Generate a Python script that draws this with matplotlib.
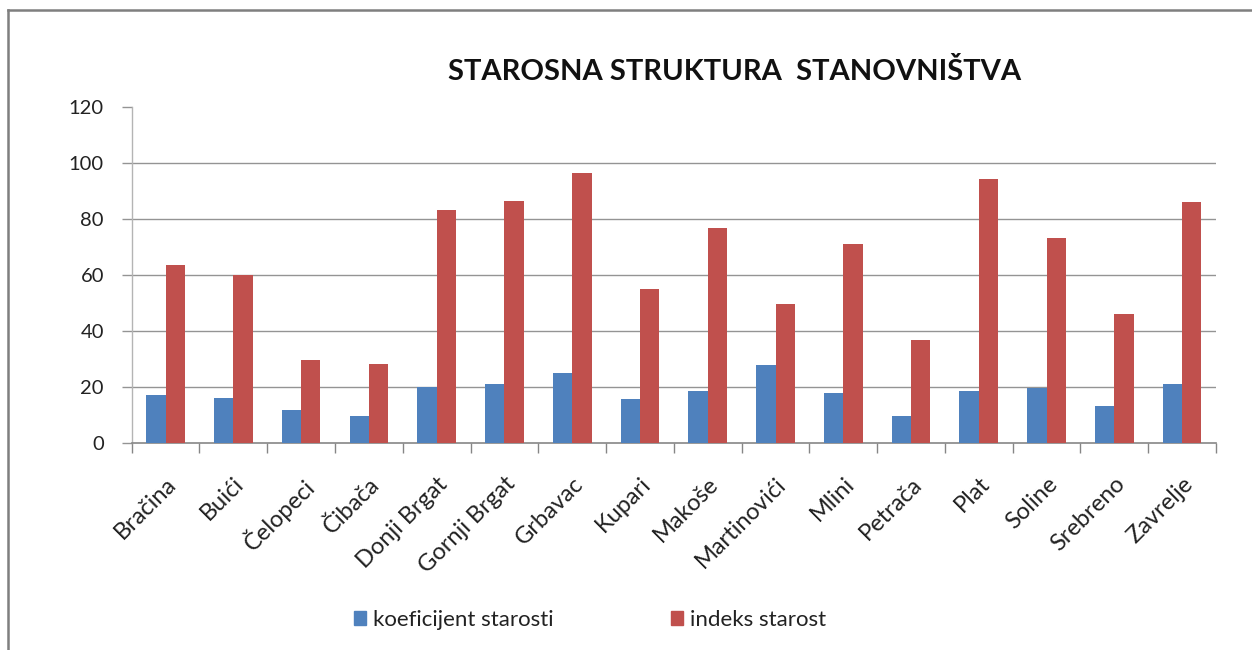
import matplotlib
matplotlib.use("Agg")
import matplotlib.pyplot as plt
from matplotlib.lines import Line2D
from matplotlib.patches import Patch
import numpy as np

plt.rcParams['font.family'] = ['Lato', 'DejaVu Sans']

categories = ["Bračina", "Buići", "Čelopeci", "Čibača", "Donji Brgat", "Gornji Brgat",
              "Grbavac", "Kupari", "Makoše", "Martinovići", "Mlini", "Petrača",
              "Plat", "Soline", "Srebreno", "Zavrelje"]
koeficijent = [17.1, 15.8, 11.8, 9.6, 20.0, 20.9, 24.9, 15.5, 18.6, 27.6, 17.9, 9.6, 18.6, 19.5, 13.1, 21.1]
indeks = [63.4, 59.8, 29.4, 28.0, 83.2, 86.2, 96.4, 54.8, 76.6, 49.5, 70.9, 36.8, 94.2, 73.1, 45.8, 86.1]
series_names = ["koeficijent starosti", "indeks starost"]
yticks = [0, 20, 40, 60, 80, 100, 120]
title = "STAROSNA STRUKTURA  STANOVNIŠTVA"

BLUE = "#4F81BD"
RED = "#C0504D"
GRID = "#949494"
AXIS = "#868686"

W, H = 1252, 650
fig = plt.figure(figsize=(W / 100, H / 100), dpi=100)
fig.patch.set_facecolor("white")

# outer chart border (top and left visible)
fig.add_artist(Line2D([8 / W, 8 / W], [0, 1 - 10 / H], color="#7F7F7F", lw=1.8))
fig.add_artist(Line2D([8 / W, 1], [1 - 10 / H, 1 - 10 / H], color="#7F7F7F", lw=1.8))

left, right = 131.7 / W, 1216 / W
bottom, top = 1 - 442.7 / H, 1 - 106.7 / H
ax = fig.add_axes([left, bottom, right - left, top - bottom])

x = np.arange(len(categories))
bw = 1 / 3.5
ax.bar(x - bw / 2, koeficijent, width=bw, color=BLUE, zorder=3)
ax.bar(x + bw / 2, indeks, width=bw, color=RED, zorder=3)

ax.set_xlim(-0.5, len(categories) - 0.5)
ax.set_ylim(0, 120)

# gridlines (no line at the top value)
for v in yticks[1:-1]:
    ax.axhline(v, color=GRID, lw=1.0, zorder=1)

for s in ["top", "right"]:
    ax.spines[s].set_visible(False)
ax.spines["left"].set_color("#B4B4B4")
ax.spines["bottom"].set_color(AXIS)
ax.spines["left"].set_linewidth(1.0)
ax.spines["bottom"].set_linewidth(1.2)

ax.set_yticks(yticks)
ax.set_yticklabels([str(v) for v in yticks], fontsize=14.5, color="#222222")
ax.tick_params(axis="y", length=7, width=1, color=GRID, pad=13)

ax.set_xticks(x)
ax.set_xticklabels(categories, rotation=45, ha="right", va="top",
                   rotation_mode="anchor", fontsize=17, color="#222222")
ax.tick_params(axis="x", which="major", length=0, pad=22)
ax.set_xticks(np.arange(-0.5, len(categories), 1.0), minor=True)
ax.tick_params(axis="x", which="minor", length=7, width=1, color=AXIS)

fig.text(735 / W, 1 - 72 / H, title, ha="center", va="center", fontsize=21,
         fontweight="bold", color="#111111")

handles = [Patch(facecolor=BLUE, edgecolor=BLUE), Patch(facecolor=RED, edgecolor=RED)]
fig.legend(handles, series_names, loc="center", bbox_to_anchor=(590 / W, 1 - 620 / H),
           ncol=2, frameon=False, fontsize=16, handlelength=0.55, handleheight=0.55,
           handletextpad=0.3, columnspacing=5.3, labelcolor="#222222")

fig.savefig("out.png", dpi=100, facecolor="white")
